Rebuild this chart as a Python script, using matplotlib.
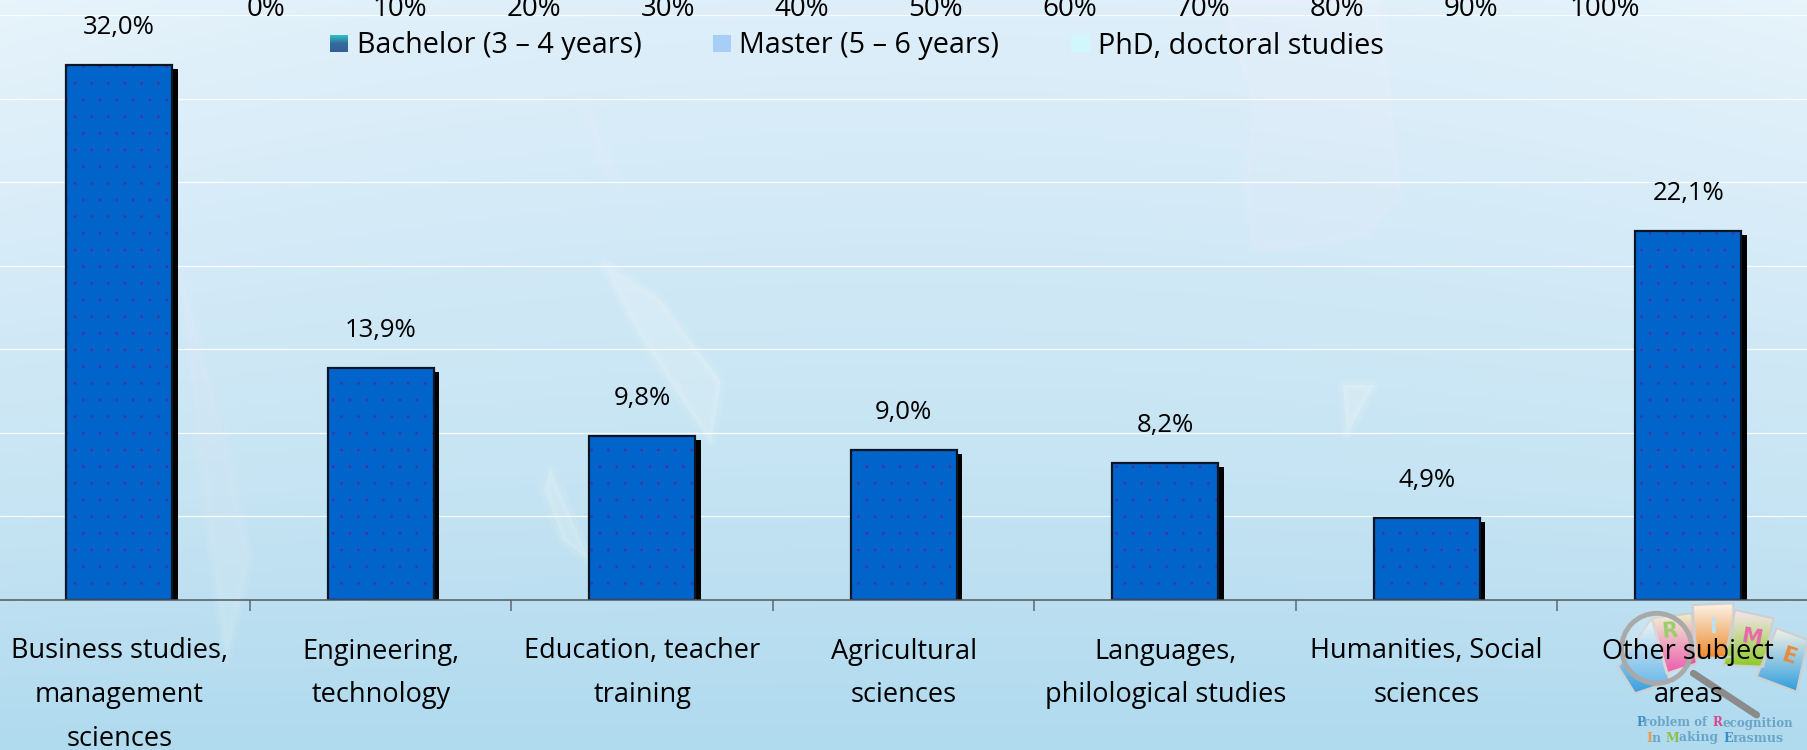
import numpy as np
import matplotlib
matplotlib.use("Agg")
import matplotlib.pyplot as plt
import matplotlib.hatch as mhatch
from matplotlib.patches import Polygon, Circle
from matplotlib.transforms import ScaledTranslation
from matplotlib.colors import LinearSegmentedColormap

categories = ["Business studies,\nmanagement\nsciences", "Engineering,\ntechnology",
              "Education, teacher\ntraining", "Agricultural\nsciences",
              "Languages,\nphilological studies", "Humanities, Social\nsciences",
              "Other subject\nareas"]
values = [32.0, 13.9, 9.8, 9.0, 8.2, 4.9, 22.1]
value_labels = ["32,0%", "13,9%", "9,8%", "9,0%", "8,2%", "4,9%", "22,1%"]
top_ticks = list(range(0, 101, 10))
legend_names = ["Bachelor (3 – 4 years)", "Master (5 – 6 years)", "PhD, doctoral studies"]

W, H = 1808, 750
FONT = "Open Sans"
plt.rcParams["font.family"] = [FONT, "DejaVu Sans"]
plt.rcParams["hatch.linewidth"] = 0.2
mhatch.SmallFilledCircles.size = 0.075
fig = plt.figure(figsize=(W / 100, H / 100), dpi=100)

def px_axes(x0, y0, x1, y1, **kw):
    return fig.add_axes([x0 / W, 1 - y1 / H, (x1 - x0) / W, (y1 - y0) / H], **kw)

# background
bg = fig.add_axes([0, 0, 1, 1], zorder=0)
yy, xx = np.mgrid[0:1:200j, 0:1:400j]
cmap = LinearSegmentedColormap.from_list("b", [(0, "#eef8fc"), (.18, "#e2f1fa"), (.4, "#d6ebf8"),
                                               (.7, "#c6e4f3"), (1, "#aed9ee")])
bg.imshow(.10 + .87 * yy + .16 * (1 - yy) * (1 - (2 * xx - 1) ** 2), cmap=cmap, vmin=0, vmax=1,
          extent=[0, W, H, 0], aspect="auto", interpolation="bilinear")
for pts, a in [
    ([(1222, 0), (1379, 0), (1401, 193), (1365, 237), (1254, 251), (1245, 184), (1254, 104)], .045),
    ([(1400, 0), (1480, 300), (1510, 340), (1520, 400), (1480, 480), (1420, 560), (1390, 750), (1350, 750),
      (1340, 600), (1343, 385), (1300, 300), (1222, 251), (1400, 251)], .012),
    ([(604, 264), (660, 300), (721, 382), (711, 443), (640, 336)], .05),
    ([(550, 468), (589, 560), (563, 540), (545, 490)], .05),
    ([(180, 269), (232, 473), (249, 560), (226, 662), (201, 458)], .035),
    ([(584, 101), (619, 183), (599, 152)], .03),
    ([(1343, 385), (1374, 385), (1347, 434)], .06),
    ([(0, 0), (190, 0), (215, 300), (250, 600), (220, 750), (0, 750)], .012),
]:
    for lw in (9, 6, 3, 0):
        bg.add_patch(Polygon(pts, closed=True, fc="white", ec="white", lw=lw, alpha=a, joinstyle="round"))

# PRIME logo, in crop coordinates converted to pixels
def lx(p):
    return [(1500 + a / 3, 560 + b / 3) for a, b in p]

cards = [
    ([(455, 175), (355, 320), (405, 400), (510, 365)], ["#e9f3f8", "#3aa0e2"]),
    ([(455, 175), (575, 160), (590, 310), (500, 340)], ["#eef0c8", "#e8389c"]),
    ([(578, 135), (700, 130), (700, 290), (590, 295)], ["#fbf3e8", "#ee8a2e"]),
    ([(705, 150), (820, 175), (790, 320), (670, 315)], ["#f6e4ee", "#8ccb28"]),
    ([(830, 205), (924, 240), (890, 395), (770, 350)], ["#f1f1e4", "#2f9de0"]),
]
grad = np.linspace(0, 1, 40)[:, None]
for pts, cols in cards:
    p = np.array(lx(pts))
    poly = Polygon(p, closed=True, fc="none", ec="#cfcfcf", lw=1.5, zorder=3)
    bg.add_patch(poly)
    im = bg.imshow(grad, cmap=LinearSegmentedColormap.from_list("c", cols), aspect="auto", zorder=2,
                   extent=[p[:, 0].min(), p[:, 0].max(), p[:, 1].max(), p[:, 1].min()])
    im.set_clip_path(poly)
for ch, zx, zy, col, rot in [("R", 510, 215, "#86c24c", 5), ("I", 640, 200, "#bfe0ee", 0),
                             ("M", 755, 235, "#e76aa8", -10), ("E", 865, 290, "#e88a38", -18)]:
    (tx, ty), = lx([(zx, zy)])
    bg.text(tx, ty, ch, ha="center", va="center", fontsize=15, fontweight="bold", color=col,
            rotation=rot, family="DejaVu Sans", zorder=4)
(cx, cy), = lx([(470, 265)])
bg.add_patch(Circle((cx, cy), 35, fc="#ffffff30", ec="#a9a9a9", lw=3.5, zorder=5))
(hx0, hy0), (hx1, hy1) = lx([(580, 340), (770, 465)])
bg.plot([hx0, hx1], [hy0, hy1], color="#8b8b8b", lw=5, solid_capstyle="round", zorder=5)

bg.set_xlim(0, W); bg.set_ylim(H, 0); bg.axis("off")

def pieces(parts, xc, y, width_px):
    r = fig.canvas.get_renderer()
    made = [bg.text(0, y, s, ha="left", va="center", fontsize=8, fontweight="bold",
                    family="DejaVu Serif", color=c, zorder=6) for s, c in parts]
    widths = []
    # advance widths, measured with a trailing period so spaces count
    for (s, c), t in zip(parts, made):
        t.set_text(s + ".")
        w_with = t.get_window_extent(r).width
        t.set_text(".")
        w_dot = t.get_window_extent(r).width
        t.set_text(s)
        widths.append(w_with - w_dot)
    k = width_px / sum(widths)
    x = xc - width_px / 2
    for t, w in zip(made, widths):
        t.set_fontsize(8 * k)
        t.set_x(x)
        x += w * k

pieces([("P", "#3a8fc8"), ("roblem of ", "#6aa4c8"), ("R", "#d6498f"), ("ecognition", "#6aa4c8")],
       1715, 723, 157)
pieces([("I", "#e89a50"), ("n ", "#6aa4c8"), ("M", "#8fbe4e"), ("aking ", "#6aa4c8"), ("E", "#3a8fc8"),
        ("rasmus", "#6aa4c8")], 1715, 738, 137)

# main chart
ax = px_axes(-11.5, 15, 1819, 600, zorder=2)
ax.patch.set_alpha(0)
x = np.arange(len(values))
shift = ScaledTranslation(5.5 / 100, -4 / 100, fig.dpi_scale_trans)
shadow = ax.bar(x, values, width=.405, color="black", zorder=3)
for b in shadow:
    b.set_transform(ax.transData + shift)
ax.bar(x, values, width=.405, color="#0064cb", edgecolor="#43349f", linewidth=0, hatch=".", zorder=4)
ax.bar(x, values, width=.405, fill=False, edgecolor="#0a1526", linewidth=1.6, zorder=5)
ax.set_xlim(-.5, len(values) - .5)
ax.set_ylim(0, 35)
ax.set_yticks(np.arange(0, 36, 5))
ax.grid(axis="y", color="white", lw=.9, alpha=.9, zorder=1)
ax.tick_params(axis="y", length=0, labelleft=False)
ax.set_xticks(x[:-1] + .5)
ax.set_xticklabels([])
ax.tick_params(axis="x", length=8, width=1.1, color="#606870")
for s in ["top", "left", "right"]:
    ax.spines[s].set_visible(False)
ax.spines["bottom"].set_color("#505860")
ax.spines["bottom"].set_linewidth(1.1)
ax.spines["bottom"].set_zorder(6)
ax.set_axisbelow(True)

for i, c in enumerate(categories):
    ax.annotate(c, (i, 0), xytext=(0, -27), textcoords="offset points", ha="center", va="top",
                fontsize=19.5, linespacing=1.74, color="black", annotation_clip=False, zorder=8)
for xi, v, t in zip(x, values, value_labels):
    ax.annotate(t, (xi, v), xytext=(0, 27), textcoords="offset points", ha="center", va="center",
                fontsize=18.5, color="black", zorder=8)

# stray percentage axis cut by the top edge
top = px_axes(266, 15, 1605, 16, zorder=3)
top.patch.set_alpha(0)
top.set_xlim(0, 100)
top.set_xticks(top_ticks)
top.set_xticklabels([f"{t}%" for t in top_ticks], fontsize=20)
top.tick_params(axis="x", length=0, top=False, bottom=False, labeltop=True, labelbottom=False, pad=-6)
top.set_yticks([])
for s in top.spines.values():
    s.set_visible(False)

# legend
leg_box = [(330, 348), (713, 731), (1071, 1090)]
leg_text = [357, 739, 1098]
leg_cols = [["#2fc0c4", "#356a9e", "#345f96"], ["#a7cff6", "#a7cff6"], ["#d0f8fb", "#d0f8fb"]]
for (x0, x1), tx, cols, name in zip(leg_box, leg_text, leg_cols, legend_names):
    a = px_axes(x0, 35, x1, 52, zorder=3)
    a.imshow(np.linspace(0, 1, 30)[:, None], cmap=LinearSegmentedColormap.from_list("l", cols), aspect="auto")
    a.axis("off")
    fig.text(tx / W, 1 - 46 / H, name, ha="left", va="center", fontsize=20.7, zorder=9)

fig.savefig("out.png", dpi=100)
